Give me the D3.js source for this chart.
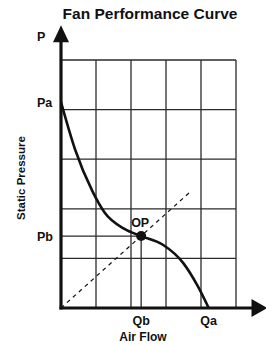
<!DOCTYPE html>
<html>
<head>
<meta charset="utf-8">
<script src="https://cdn.jsdelivr.net/npm/d3@7.9.0/dist/d3.min.js"></script>
<style>
  html, body { margin: 0; padding: 0; background: #fff; }
  svg { display: block; font-family: Arial, "Liberation Sans", Helvetica, sans-serif; font-weight: bold; }
</style>
</head>
<body>
<svg id="chart" width="266" height="345"></svg>
<script>
// fan curve (flow, pressure in grid units)
const curveFlow     = [0, 0.4, 0.9, 1.25, 1.8, 2.29, 2.9, 3.5, 3.9, 4.22];
const curvePressure = [4.15, 3.2, 2.35, 1.92, 1.6, 1.45, 1.28, 0.9, 0.45, 0];

// system line (dashed)
const systemFlow     = [0, 3.69];
const systemPressure = [0, 2.34];

// operating point
const opFlow = 2.29;
const opPressure = 1.45;

const gridLines = [0, 1, 2, 3, 4, 5];
const yLabels = ['Pa', 'Pb'];
const yLabelValues = [4.15, 1.45];
const xLabels = ['Qb', 'Qa'];
const xLabelValues = [2.29, 4.22];

const svg = d3.select('#chart');

let x = d3.scaleLinear().domain([0, 5]).range([61, 236]);
let y = d3.scaleLinear().domain([0, 5]).range([308, 60]);

// grid
let grid = svg.append('g').attr('stroke', '#2a2a2a').attr('stroke-width', 1.3);
gridLines.forEach(v => {
    grid.append('line').attr('x1', x(v)).attr('x2', x(v)).attr('y1', y(0)).attr('y2', y(5));
    grid.append('line').attr('x1', x(0)).attr('x2', x(5)).attr('y1', y(v)).attr('y2', y(v));
});

// Pb / Qb guide lines
grid.append('line').attr('x1', x(0)).attr('x2', x(opFlow)).attr('y1', y(opPressure)).attr('y2', y(opPressure));
grid.append('line').attr('x1', x(opFlow)).attr('x2', x(opFlow)).attr('y1', y(opPressure)).attr('y2', y(0));

// system line
svg.append('path')
    .datum(systemFlow.map((f, i) => [f, systemPressure[i]]))
    .attr('d', d3.line().x(d => x(d[0])).y(d => y(d[1])))
    .attr('fill', 'none')
    .attr('stroke', '#111')
    .attr('stroke-width', 1.2)
    .attr('stroke-dasharray', '4,4');

// fan curve
svg.append('path')
    .datum(curveFlow.map((f, i) => [f, curvePressure[i]]))
    .attr('d', d3.line().x(d => x(d[0])).y(d => y(d[1])).curve(d3.curveMonotoneX))
    .attr('fill', 'none')
    .attr('stroke', '#111')
    .attr('stroke-width', 2.6);

// axes with arrows
const yTop = 5.7, xEnd = 5.9;
svg.append('line').attr('x1', x(0)).attr('x2', x(0)).attr('y1', y(0) + 1.5).attr('y2', y(yTop) + 14)
    .attr('stroke', '#111').attr('stroke-width', 3.2);
svg.append('line').attr('x1', x(0) - 1.5).attr('x2', x(xEnd) - 14).attr('y1', y(0)).attr('y2', y(0))
    .attr('stroke', '#111').attr('stroke-width', 3.2);
svg.append('path')
    .attr('d', `M${x(0)},${y(yTop)} L${x(0) + 8},${y(yTop) + 17} L${x(0) - 8},${y(yTop) + 17}Z`)
    .attr('fill', '#111');
svg.append('path')
    .attr('d', `M${x(xEnd)},${y(0)} L${x(xEnd) - 16},${y(0) - 9} L${x(xEnd) - 16},${y(0) + 9}Z`)
    .attr('fill', '#111');

// operating point
svg.append('circle').attr('cx', x(opFlow)).attr('cy', y(opPressure)).attr('r', 5).attr('fill', '#111');
svg.append('text').attr('x', x(opFlow) - 10).attr('y', y(opPressure) - 9)
    .attr('font-size', 12.5).attr('fill', '#111').text('OP');

// labels
svg.append('text').attr('x', 150).attr('y', 19).attr('text-anchor', 'middle')
    .attr('font-size', 15.5).attr('fill', '#111').text('Fan Performance Curve');
svg.append('text').attr('x', 37).attr('y', 41).attr('font-size', 12.5).attr('fill', '#111').text('P');

yLabels.forEach((lab, i) => {
    svg.append('text').attr('x', 37).attr('y', y(yLabelValues[i]) + 4.5)
        .attr('font-size', 12.5).attr('fill', '#111').text(lab);
});
xLabels.forEach((lab, i) => {
    svg.append('text').attr('x', x(xLabelValues[i])).attr('y', 325).attr('text-anchor', 'middle')
        .attr('font-size', 12.5).attr('fill', '#111').text(lab);
});

svg.append('text').attr('x', 143).attr('y', 341).attr('text-anchor', 'middle')
    .attr('font-size', 12).attr('fill', '#111').text('Air Flow');
svg.append('text').attr('transform', 'translate(25,178) rotate(-90)').attr('text-anchor', 'middle')
    .attr('font-size', 11.5).attr('fill', '#111').text('Static Pressure');
</script>
</body>
</html>
